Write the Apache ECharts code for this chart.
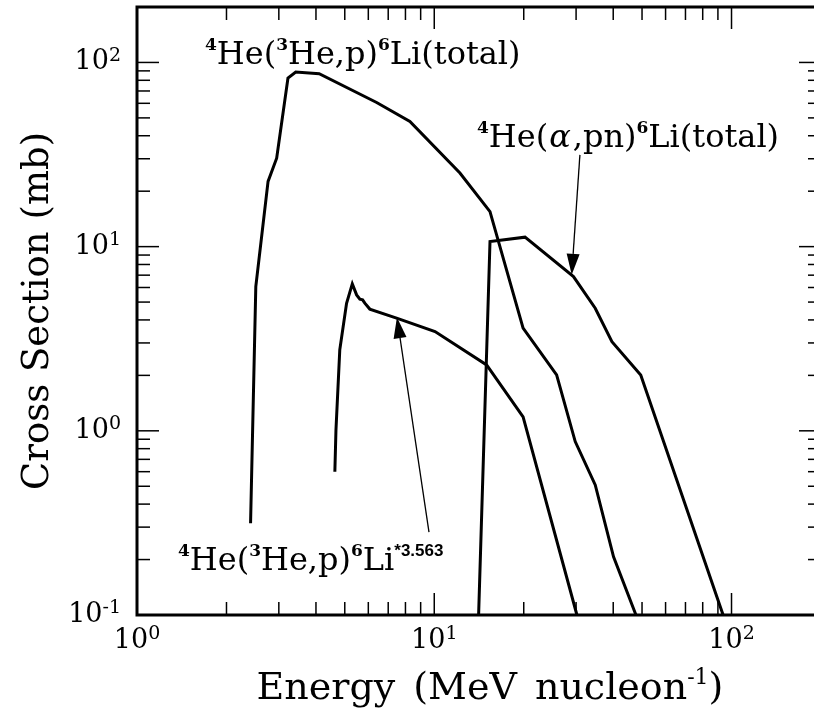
<!DOCTYPE html>
<html><head><meta charset="utf-8">
<script src="https://cdn.jsdelivr.net/npm/echarts@6/dist/echarts.min.js"></script>
<style>html,body{margin:0;padding:0;background:#fff}#c{width:814px;height:723px}</style>
</head><body><div id="c"></div>
<script>
// ---- data (Energy in MeV/nucleon, cross section in mb) ----
const he3TotalE = [2.41, 2.51, 2.76, 2.95, 3.22, 3.42, 4.10, 6.40, 8.28, 12.2, 15.4, 19.9, 25.8, 29.8, 34.8, 40.1, 47.7];
const he3TotalS = [0.315, 6.07, 22.6, 30.2, 82.3, 88.7, 86.8, 60.6, 47.8, 25.1, 15.5, 3.61, 2.01, 0.874, 0.508, 0.207, 0.1];

const alphaTotalE = [14.1, 15.4, 20.2, 29.4, 34.8, 39.6, 49.5, 93.7];
const alphaTotalS = [0.1, 10.66, 11.26, 6.88, 4.63, 3.05, 2.01, 0.1];

const he3ExcE = [4.63, 4.67, 4.81, 5.07, 5.30, 5.48, 5.62, 5.74, 5.84, 6.07, 7.47, 10.06, 15.0, 19.9, 30.2];
const he3ExcS = [0.600, 1.01, 2.75, 4.93, 6.28, 5.47, 5.19, 5.14, 4.93, 4.58, 4.09, 3.46, 2.28, 1.19, 0.1];

// axis ranges and tick values
const xRange = [1, 200];
const yRange = [0.1, 200];
const xTickValues = [1,2,3,4,5,6,7,8,9,10,20,30,40,50,60,70,80,90,100];
const yTickValues = [0.1,0.2,0.3,0.4,0.5,0.6,0.7,0.8,0.9,1,2,3,4,5,6,7,8,9,10,20,30,40,50,60,70,80,90,100];

// annotation arrows: [tailE, tailS, tipE, tipS]
const arrowAlpha = [30.9, 31.5, 29.0, 7.03];
const arrowExc = [9.60, 0.282, 7.49, 4.14];

// ---- chart ----
const FONT = 'DejaVu Serif';
const zip = (a, b) => a.map((v, i) => [v, b[i]]);
const isPow10 = v => { const l = Math.log10(v); return Math.abs(l - Math.round(l)) < 1e-6; };
const powLabel = v => {
  if (!isPow10(v)) return '';
  const r = Math.round(Math.log10(v));
  return '{b|10}{e|' + (r < 0 ? '-' + (-r) : r) + '}';
};
const tickRich = {
  b: {fontFamily: FONT, fontSize: 27, color: '#000', lineHeight: 32},
  e: {fontFamily: FONT, fontSize: 19, color: '#000', lineHeight: 14, verticalAlign: 'top'}
};

const lineSeries = (E, S) => ({
  type: 'line', data: zip(E, S), showSymbol: false, symbol: 'none',
  lineStyle: {color: '#000', width: 3, join: 'miter'}, clip: true, animation: false, z: 3
});

const chart = echarts.init(document.getElementById('c'), null, {renderer: 'canvas'});

function tickRender(isX) {
  return function (params, api) {
    const v = api.value(isX ? 0 : 1);
    const major = isPow10(v);
    const len = major ? 22 : 13;
    if (isX) {
      const pb = api.coord([v, yRange[0]]);
      const pt = api.coord([v, yRange[1]]);
      return {type: 'group', children: [
        {type: 'line', shape: {x1: pb[0], y1: pb[1], x2: pb[0], y2: pb[1] - len}, style: {stroke: '#000', lineWidth: 1.5}},
        {type: 'line', shape: {x1: pt[0], y1: pt[1], x2: pt[0], y2: pt[1] + len}, style: {stroke: '#000', lineWidth: 1.5}}
      ]};
    } else {
      const pl = api.coord([xRange[0], v]);
      const pr = api.coord([xRange[1], v]);
      return {type: 'group', children: [
        {type: 'line', shape: {x1: pl[0], y1: pl[1], x2: pl[0] + len, y2: pl[1]}, style: {stroke: '#000', lineWidth: 1.5}},
        {type: 'line', shape: {x1: pr[0], y1: pr[1], x2: pr[0] - len, y2: pr[1]}, style: {stroke: '#000', lineWidth: 1.5}}
      ]};
    }
  };
}

function arrowRender(params, api) {
  const p1 = api.coord([api.value(0), api.value(1)]);
  const p2 = api.coord([api.value(2), api.value(3)]);
  const dx = p2[0] - p1[0], dy = p2[1] - p1[1];
  const L = Math.hypot(dx, dy), ux = dx / L, uy = dy / L;
  const hl = 21, hw = 6.5;
  const bx = p2[0] - ux * hl, by = p2[1] - uy * hl;
  return {type: 'group', children: [
    {type: 'line', shape: {x1: p1[0], y1: p1[1], x2: bx, y2: by}, style: {stroke: '#000', lineWidth: 1.3}},
    {type: 'polygon', shape: {points: [[p2[0], p2[1]], [bx - uy * hw, by + ux * hw], [bx + uy * hw, by - ux * hw]]}, style: {fill: '#000'}}
  ]};
}

const supStyle = {fontFamily: FONT, fontSize: 17, fontWeight: 'bold', color: '#000', lineHeight: 20, verticalAlign: 'top'};
const mainStyle = {fontFamily: FONT, fontSize: 32, color: '#000', lineHeight: 38};
const labelRich = {
  m: mainStyle,
  s: supStyle,
  a: Object.assign({}, mainStyle, {fontStyle: 'italic', padding: [0, 2, 0, 1]}),
  x: {fontFamily: 'Liberation Sans', fontSize: 17, fontWeight: 'bold', color: '#000', lineHeight: 20, verticalAlign: 'top'}
};

chart.setOption({
  animation: false,
  backgroundColor: '#fff',
  grid: {left: 137, top: 7, width: 684, height: 608, show: true, borderColor: '#000', borderWidth: 3,
         backgroundColor: 'transparent', containLabel: false, outerBoundsMode: 'none'},
  xAxis: {
    type: 'log', logBase: 10, min: xRange[0], max: xRange[1],
    axisLine: {show: false}, axisTick: {show: false}, splitLine: {show: false},
    axisLabel: {formatter: powLabel, rich: tickRich, margin: 10, showMaxLabel: false},
    name: '{t|Energy}{w|(MeV}{w|nucleon}{u|-1}{t|)}', nameLocation: 'middle', nameGap: 52,
    nameTextStyle: {padding: [0, 0, 0, 22], rich: {
      t: {fontFamily: FONT, fontSize: 38, color: '#000', lineHeight: 44},
      w: {fontFamily: FONT, fontSize: 38, color: '#000', lineHeight: 44, padding: [0, 0, 0, 18]},
      u: {fontFamily: FONT, fontSize: 22, color: '#000', lineHeight: 24, verticalAlign: 'top'}
    }}
  },
  yAxis: {
    type: 'log', logBase: 10, min: yRange[0], max: yRange[1],
    axisLine: {show: false}, axisTick: {show: false}, splitLine: {show: false},
    axisLabel: {formatter: powLabel, rich: tickRich, margin: 16, showMaxLabel: false},
    name: 'Cross Section (mb)', nameLocation: 'middle', nameGap: 73,
    nameTextStyle: {fontFamily: FONT, fontSize: 37, color: '#000'}
  },
  series: [
    lineSeries(he3TotalE, he3TotalS),
    lineSeries(alphaTotalE, alphaTotalS),
    lineSeries(he3ExcE, he3ExcS),
    {type: 'custom', renderItem: tickRender(true), data: xTickValues.map(v => [v, yRange[0]]), clip: false, silent: true, z: 4},
    {type: 'custom', renderItem: tickRender(false), data: yTickValues.map(v => [xRange[0], v]), clip: false, silent: true, z: 4},
    {type: 'custom', renderItem: arrowRender, data: [arrowAlpha, arrowExc], encode: {x: [0, 2], y: [1, 3]}, clip: false, silent: true, z: 5}
  ],
  graphic: [
    {type: 'text', left: 205, top: 37, style: {text: '{s|4}{m|He(}{s|3}{m|He,p)}{s|6}{m|Li(total)}', rich: labelRich}},
    {type: 'text', left: 477, top: 120, style: {text: '{s|4}{m|He(}{a|α}{m|,pn)}{s|6}{m|Li(total)}', rich: labelRich}},
    {type: 'text', left: 178, top: 543, style: {text: '{s|4}{m|He(}{s|3}{m|He,p)}{s|6}{m|Li}{x|*3.563}', rich: labelRich}}
  ]
});
</script></body></html>
